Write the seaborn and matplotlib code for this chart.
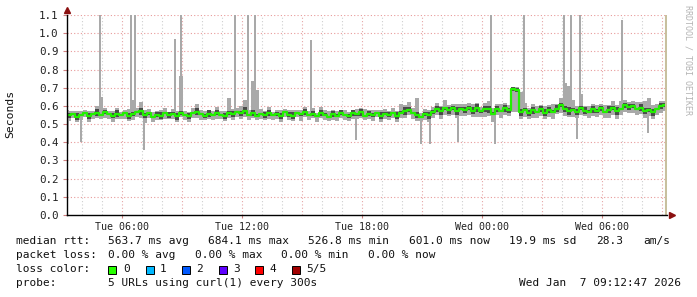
import numpy as np
import pandas as pd
import matplotlib
matplotlib.use("Agg")
import matplotlib.pyplot as plt
import matplotlib.dates as mdates
from matplotlib.patches import Rectangle
import seaborn as sns

# ---------------- data ----------------
start_time = "2026-01-06 03:15"
step_minutes = 12
now_time = "2026-01-07 09:12:47"

# median rtt per 12-minute sample (ms)
med_ms = [548, 556, 541, 552, 560, 545, 554, 562, 550, 565,
          553, 546, 558, 549, 561, 543, 555, 564, 571, 548,
          560, 538, 552, 547, 563, 549, 557, 544, 562, 551,
          546, 561, 568, 553, 544, 558, 549, 563, 551, 545,
          562, 554, 566, 559, 574, 552, 563, 546, 557, 549,
          561, 548, 556, 543, 565, 551, 546, 560, 553, 566,
          550, 558, 545, 561, 552, 540, 556, 547, 562, 551,
          544, 559, 553, 565, 547, 557, 550, 563, 546, 558,
          552, 560, 547, 563, 572, 579, 560, 548, 541, 555,
          549, 568, 583, 572, 588, 576, 590, 571, 585, 578,
          589, 573, 586, 570, 581, 581, 557, 583, 574, 586,
          577, 693, 688, 566, 579, 561, 575, 568, 582, 563,
          576, 569, 585, 605, 584, 572, 580, 566, 588, 574,
          568, 582, 571, 586, 566, 579, 588, 570, 582, 603,
          594, 600, 583, 591, 572, 578, 565, 584, 598, 605]

# smoke extent above / below the median (ms)
up_ms = [25, 18, 30, 22, 15, 28, 20, 35, 100, 24,
         18, 26, 31, 20, 16, 40, 76, 22, 48, 30,
         22, 26, 19, 33, 28, 17, 24, 30, 200, 21,
         18, 27, 45, 22, 30, 19, 25, 32, 20, 28,
         84, 30, 24, 38, 60, 28, 173, 140, 26, 22,
         31, 18, 24, 36, 20, 27, 33, 19, 25, 30,
         22, 28, 17, 34, 25, 31, 20, 26, 18, 29,
         24, 19, 30, 23, 35, 21, 28, 17, 32, 26,
         20, 30, 25, 50, 35, 40, 28, 94, 22, 26,
         30, 24, 35, 28, 46, 30, 22, 38, 27, 33,
         25, 40, 28, 22, 36, 45, 30, 25, 34, 28,
         30, 12, 15, 110, 38, 26, 33, 29, 24, 35,
         30, 44, 28, 40, 140, 140, 52, 36, 75, 28,
         30, 26, 35, 24, 38, 28, 40, 33, 45, 30,
         28, 25, 36, 30, 55, 68, 40, 26, 30, 22]

dn_ms = [30, 25, 32, 28, 22, 35, 26, 30, 24, 32,
         26, 34, 28, 23, 32, 27, 30, 25, 35, 40,
         28, 24, 30, 26, 33, 22, 29, 35, 25, 30,
         32, 26, 35, 28, 24, 31, 27, 36, 25, 29,
         30, 33, 26, 29, 37, 28, 32, 25, 30, 27,
         35, 24, 29, 32, 26, 31, 28, 23, 34, 27,
         29, 25, 32, 27, 30, 24, 33, 28, 26, 31,
         25, 30, 27, 34, 24, 29, 32, 26, 35, 28,
         31, 27, 34, 29, 36, 28, 32, 30, 26, 33,
         40, 35, 32, 45, 38, 34, 40, 36, 43, 32,
         38, 34, 45, 32, 40, 36, 48, 35, 40, 37,
         34, 125, 120, 36, 38, 32, 40, 35, 37, 34,
         36, 40, 32, 45, 38, 35, 40, 34, 38, 32,
         37, 40, 34, 38, 32, 44, 36, 40, 34, 38,
         35, 40, 32, 36, 40, 34, 38, 32, 36, 34]

# inner (dense) smoke half-width (ms)
dk_ms = [14, 4, 18, 6, 3, 16, 5, 20, 8, 12,
         4, 15, 19, 6, 3, 17, 10, 5, 20, 12,
         8, 3, 12, 18, 4, 15, 7, 19, 10, 4,
         16, 6, 20, 4, 11, 17, 3, 15, 7, 18,
         10, 16, 4, 14, 20, 6, 17, 9, 3, 15,
         19, 3, 10, 17, 6, 14, 20, 4, 9, 16,
         7, 15, 4, 18, 10, 3, 16, 6, 14, 4,
         9, 17, 6, 20, 4, 14, 10, 3, 18, 7,
         15, 4, 17, 9, 20, 14, 6, 16, 4, 10,
         20, 12, 17, 22, 8, 19, 12, 21, 7, 16,
         11, 19, 22, 8, 16, 20, 9, 18, 6, 21,
         14, 10, 10, 19, 8, 17, 21, 6, 15, 19,
         17, 7, 20, 12, 18, 22, 6, 16, 9, 19,
         8, 20, 12, 16, 5, 19, 11, 22, 7, 15,
         19, 9, 6, 20, 14, 10, 18, 5, 16, 12]

# isolated outlier pings (thin spikes)
spike_time = ["2026-01-06 03:18", "2026-01-06 03:57", "2026-01-06 04:54",
              "2026-01-06 06:27", "2026-01-06 06:39", "2026-01-06 07:06",
              "2026-01-06 08:39", "2026-01-06 08:57", "2026-01-06 11:39",
              "2026-01-06 12:18", "2026-01-06 12:39", "2026-01-06 15:27",
              "2026-01-06 17:42", "2026-01-06 20:57", "2026-01-06 21:24",
              "2026-01-06 22:48", "2026-01-07 00:27", "2026-01-07 00:39",
              "2026-01-07 02:06", "2026-01-07 04:06", "2026-01-07 04:27",
              "2026-01-07 04:45", "2026-01-07 04:54", "2026-01-07 07:00",
              "2026-01-07 08:18"]
spike_lo = [390, 400, 560, 560, 560, 360, 560, 560, 565, 560, 560, 555,
            415, 390, 390, 400, 575, 390, 575, 580, 580, 420, 580, 590, 450]
spike_hi = [580, 555, 1100, 1100, 1100, 555, 970, 1100, 1100, 1100, 1100, 960,
            555, 555, 560, 580, 1100, 575, 1100, 1100, 1100, 580, 1100, 1070, 575]

y_ticks = [0.0, 0.1, 0.2, 0.3, 0.4, 0.5, 0.6, 0.7, 0.8, 0.9, 1.0, 1.1]
x_tick_times = ["2026-01-06 06:00", "2026-01-06 12:00", "2026-01-06 18:00",
                "2026-01-07 00:00", "2026-01-07 06:00"]
x_tick_labels = ["Tue 06:00", "Tue 12:00", "Tue 18:00", "Wed 00:00", "Wed 06:00"]

y_label = "Seconds"
watermark = "RRDTOOL / TOBI OETIKER"
row_rtt = ["median rtt:", "563.7 ms avg", "684.1 ms max", "526.8 ms min",
           "601.0 ms now", "19.9 ms sd", "28.3", "am/s"]
row_loss = ["packet loss:", "0.00 % avg", "0.00 % max", "0.00 % min", "0.00 % now"]
loss_title = "loss color:"
loss_labels = ["0", "1", "2", "3", "4", "5/5"]
loss_colors = ["#26ff00", "#00b8ff", "#0059ff", "#5e00ff", "#ff0000", "#a10000"]
probe_title = "probe:"
probe_text = "5 URLs using curl(1) every 300s"
stamp_text = "Wed Jan  7 09:12:47 2026"

# ---------------- figure ----------------
sns.set_theme(style="white")
plt.rcParams["font.family"] = ["DejaVu Sans Mono", "DejaVu Sans"]

W, H = 697, 297
fig = plt.figure(figsize=(W / 100, H / 100), dpi=100)
fig.patch.set_facecolor("white")
ax = fig.add_axes([67 / W, 82 / H, 600 / W, 200 / H])
ax.set_facecolor("white")

n = len(med_ms)
t0 = pd.Timestamp(start_time)
edges = pd.date_range(t0, periods=n + 1, freq=f"{step_minutes}min")
xe = mdates.date2num(edges.to_pydatetime())
xc = (xe[:-1] + xe[1:]) / 2

med = np.array(med_ms) / 1000.0
hi = med + np.array(up_ms) / 1000.0
lo = med - np.array(dn_ms) / 1000.0
dhi = med + np.array(dk_ms) / 1000.0
dlo = med - np.array(dk_ms) / 1000.0

ax.set_xlim(xe[0], xe[0] + 30 / 24.0)
ax.set_ylim(0, 1.1)

# grid
for yv in y_ticks[1:]:
    ax.axhline(yv, color="#e89a9a", lw=0.8, ls=(0, (1, 2)), zorder=0.5)
hours = pd.date_range(t0.ceil("h"), t0 + pd.Timedelta(hours=30), freq="h")
for hr in hours:
    col = "#e6a6a6" if hr.hour % 3 == 0 else "#cfcfcf"
    ax.axvline(mdates.date2num(hr.to_pydatetime()), color=col, lw=0.8,
               ls=(0, (1, 2)), zorder=0.5)

# smoke
def ext(a):
    return np.append(a, a[-1])

ax.fill_between(xe, ext(lo), ext(hi), step="post", color="#a9a9a9", lw=0, zorder=1)
st = mdates.date2num(pd.to_datetime(spike_time).to_pydatetime())
s_lo = np.array(spike_lo) / 1000.0
s_hi = np.array(spike_hi) / 1000.0
ax.bar(st, s_hi - s_lo, bottom=s_lo, width=2 * 3 / 1440.0, color="#a9a9a9",
       lw=0, zorder=1.2)
ax.fill_between(xe, ext(dlo), ext(dhi), step="post", color="#4a4a4a", lw=0, zorder=2)

df = pd.DataFrame({"t": xc, "med": med})
sns.lineplot(data=df, x="t", y="med", ax=ax, color="#22f000", lw=1.6,
             drawstyle="steps-mid", zorder=3, legend=False)

# now line
ax.axvline(mdates.date2num(pd.Timestamp(now_time).to_pydatetime()),
           color="#c8c09e", lw=2.2, zorder=4)

# axes styling
for s in ["top", "right"]:
    ax.spines[s].set_visible(False)
for s in ["left", "bottom"]:
    ax.spines[s].set_color("black")
    ax.spines[s].set_linewidth(1.0)
    ax.spines[s].set_zorder(5)

ax.set_yticks(y_ticks)
ax.set_yticklabels([f"{v:.1f}" for v in y_ticks], fontsize=7.8, color="#222222")
ax.set_xticks(mdates.date2num(pd.to_datetime(x_tick_times).to_pydatetime()))
ax.set_xticklabels(x_tick_labels, fontsize=7.2, color="#222222")
ax.tick_params(axis="y", length=3, width=0.8, color="#d08080", pad=3, left=True)
ax.tick_params(axis="x", length=2, width=0.8, color="#d08080", pad=3, bottom=True)
ax.set_xlabel("")
ax.set_ylabel("")

# arrows
ax.plot([0], [1.025], marker="^", color="#8b1010", ms=5, transform=ax.transAxes,
        clip_on=False, zorder=6)
ax.plot([1.0075], [0], marker=">", color="#8b1010", ms=5, transform=ax.transAxes,
        clip_on=False, zorder=6)

# texts
def ftext(x, y, s, **kw):
    fig.text(x / W, 1 - y / H, s, **kw)

ftext(10, 114, y_label, rotation=90, ha="center", va="center", fontsize=8.2,
      color="#111111")
ftext(688, 60, watermark, rotation=270, ha="center", va="center", fontsize=6,
      color="#b4b4b4")

fs = 8.0
tc = "#111111"
for x, s in zip([16, 108, 208, 308, 409, 509, 596, 643], row_rtt):
    ftext(x, 241, s, ha="left", va="center", fontsize=fs, color=tc)
for x, s in zip([16, 108, 195, 281, 368], row_loss):
    ftext(x, 255, s, ha="left", va="center", fontsize=fs, color=tc)
ftext(16, 269, loss_title, ha="left", va="center", fontsize=fs, color=tc)
for bx, lx, lab, c in zip([108, 146, 182, 219, 255, 292],
                          [123, 160, 196, 233, 269, 306], loss_labels, loss_colors):
    fig.add_artist(Rectangle((bx / W, 1 - 273.5 / H), 8 / W, 8 / H,
                             transform=fig.transFigure, facecolor=c,
                             edgecolor="black", lw=0.7))
    ftext(lx, 269, lab, ha="left", va="center", fontsize=fs, color=tc)
ftext(16, 283, probe_title, ha="left", va="center", fontsize=fs, color=tc)
ftext(108, 283, probe_text, ha="left", va="center", fontsize=fs, color=tc)
ftext(681, 283, stamp_text, ha="right", va="center", fontsize=fs, color=tc)

fig.savefig("out.png", dpi=100, facecolor="white")
